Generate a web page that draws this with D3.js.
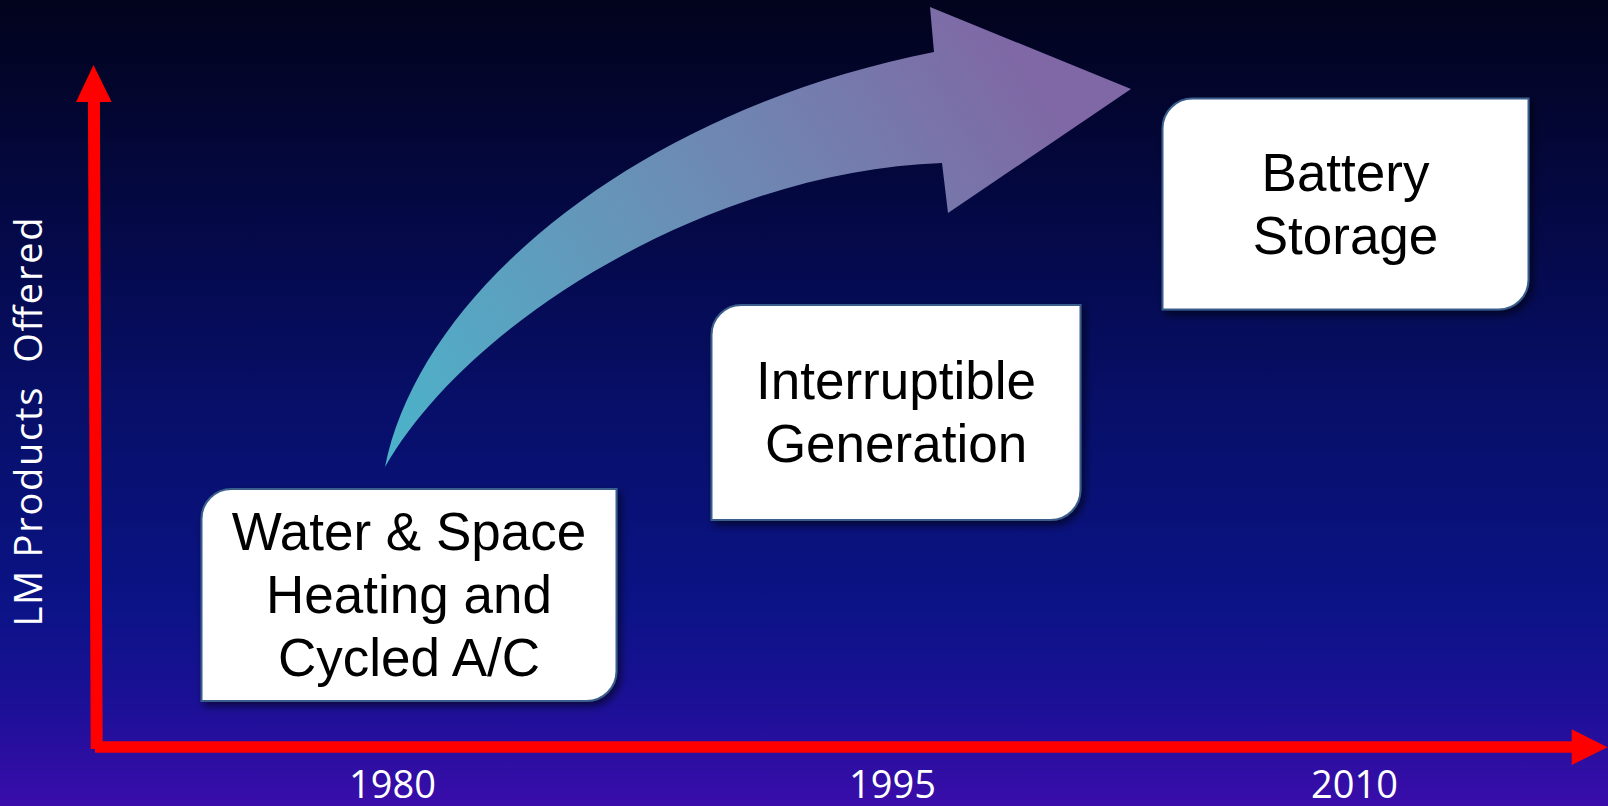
<!DOCTYPE html>
<html>
<head>
<meta charset="utf-8">
<script src="https://cdn.jsdelivr.net/npm/d3@7"></script>
<style>
  html, body { margin: 0; padding: 0; background: #02031d; overflow: hidden; }
  svg { display: block; }
</style>
</head>
<body>
<svg id="chart" width="1608" height="806"></svg>
<script>
// ---------------- data ----------------
const years = [1980, 1995, 2010];
const yearLabels = ["1980", "1995", "2010"];
const levels = [1, 2, 3];
const productLines = [
  ["Water & Space", "Heating and", "Cycled A/C"],
  ["Interruptible", "Generation"],
  ["Battery", "Storage"]
];
const axisTitle = "LM Products  Offered";

// ---------------- layout ----------------
const W = 1608, H = 806;
const boxDx = [17, 4, -8.5];
const boxW = [415, 369, 366];
const boxH = [212, 215, 211];
const cornerR = 30;
const lineGap = 63;

const svg = d3.select("#chart");
const defs = svg.append("defs");

// background gradient
const bg = defs.append("linearGradient").attr("id", "bg")
  .attr("x1", 0).attr("y1", 0).attr("x2", 0).attr("y2", 1);
[[0, "#02031c"], [0.25, "#040842"], [0.5, "#070f68"], [0.75, "#0b1386"], [0.87, "#1b1096"], [1, "#3a0dab"]]
  .forEach(([o, c]) => bg.append("stop").attr("offset", o).attr("stop-color", c));

// arrow gradient
const ag = defs.append("linearGradient").attr("id", "ag")
  .attr("gradientUnits", "userSpaceOnUse")
  .attr("x1", 400).attr("y1", 460).attr("x2", 1020).attr("y2", 60);
ag.append("stop").attr("offset", 0).attr("stop-color", "#4cb2c9");
ag.append("stop").attr("offset", 0.5).attr("stop-color", "#6a8fb6");
ag.append("stop").attr("offset", 1).attr("stop-color", "#7f68a5");

// box shadow
const f = defs.append("filter").attr("id", "shadow")
  .attr("x", "-10%").attr("y", "-10%").attr("width", "130%").attr("height", "130%");
f.append("feDropShadow").attr("dx", 3).attr("dy", 4).attr("stdDeviation", 4)
  .attr("flood-color", "#000000").attr("flood-opacity", 0.6);

svg.append("rect").attr("width", W).attr("height", H).attr("fill", "url(#bg)");

// scales
const x = d3.scaleLinear().domain(years).range([392, 892, 1354]);
const y = d3.scaleLinear().domain(levels).range([595, 412.5, 204]);

// ---------------- curved arrow ----------------
const p = d3.path();
p.moveTo(385, 467);
p.bezierCurveTo(420, 290, 640, 110, 934, 52);
p.lineTo(930, 7);
p.lineTo(1131, 89);
p.lineTo(948, 213);
p.lineTo(942, 163);
p.bezierCurveTo(720, 170, 472, 315, 385, 467);
p.closePath();
svg.append("path").attr("d", p.toString()).attr("fill", "url(#ag)");

// ---------------- red axes ----------------
const red = "#ff0000";
const ax = svg.append("g");
ax.append("line").attr("x1", 93.9).attr("y1", 100).attr("x2", 96.7).attr("y2", 749)
  .attr("stroke", red).attr("stroke-width", 12);
ax.append("line").attr("x1", 95).attr("y1", 747).attr("x2", 1573).attr("y2", 747)
  .attr("stroke", red).attr("stroke-width", 11.7);
ax.append("path").attr("d", d3.line()([[76, 102], [111.7, 102], [93.5, 65]]) + "Z").attr("fill", red);
ax.append("path").attr("d", d3.line()([[1571.7, 729.3], [1571.7, 765], [1607.6, 747.3]]) + "Z").attr("fill", red);

// year labels via d3 axis
const xAxis = d3.axisBottom(x).tickValues(years)
  .tickFormat((d, i) => yearLabels[i]).tickSize(0).tickPadding(0);
const gx = svg.append("g").attr("transform", "translate(0,798)").call(xAxis);
gx.select(".domain").remove();
gx.selectAll("text")
  .attr("y", 0).attr("dy", null)
  .attr("fill", "#ffffff")
  .style("font-family", "'Open Sans', sans-serif")
  .style("font-size", "38px");

// y-axis title
svg.append("text")
  .attr("transform", "translate(42,422) rotate(-90)")
  .attr("text-anchor", "middle")
  .attr("fill", "#ffffff")
  .attr("textLength", 409).attr("lengthAdjust", "spacing")
  .style("font-family", "'Open Sans', sans-serif")
  .style("font-size", "38px")
  .style("white-space", "pre")
  .text(axisTitle);

// ---------------- boxes ----------------
function diagBox(w, h, r) {
  const q = d3.path();
  q.moveTo(-w / 2 + r, -h / 2);
  q.lineTo(w / 2, -h / 2);
  q.lineTo(w / 2, h / 2 - r);
  q.arcTo(w / 2, h / 2, w / 2 - r, h / 2, r);
  q.lineTo(-w / 2, h / 2);
  q.lineTo(-w / 2, -h / 2 + r);
  q.arcTo(-w / 2, -h / 2, -w / 2 + r, -h / 2, r);
  q.closePath();
  return q.toString();
}

const boxes = svg.append("g").selectAll("g")
  .data(years.map((yr, i) => ({ yr, lvl: levels[i], lines: productLines[i], i })))
  .join("g")
  .attr("transform", d => `translate(${x(d.yr) + boxDx[d.i]},${y(d.lvl)})`);

boxes.append("path")
  .attr("d", d => diagBox(boxW[d.i], boxH[d.i], cornerR))
  .attr("fill", "#ffffff")
  .attr("stroke", "#3a5f8c")
  .attr("stroke-width", 2)
  .attr("filter", "url(#shadow)");

boxes.each(function (d) {
  const n = d.lines.length;
  d3.select(this).selectAll("text")
    .data(d.lines)
    .join("text")
    .attr("x", 0)
    .attr("y", (t, j) => (j - (n - 1) / 2) * lineGap + 18)
    .attr("text-anchor", "middle")
    .attr("fill", "#000000")
    .style("font-family", "'Liberation Sans', Arial, sans-serif")
    .style("font-size", "53px")
    .text(t => t);
});
</script>
</body>
</html>
